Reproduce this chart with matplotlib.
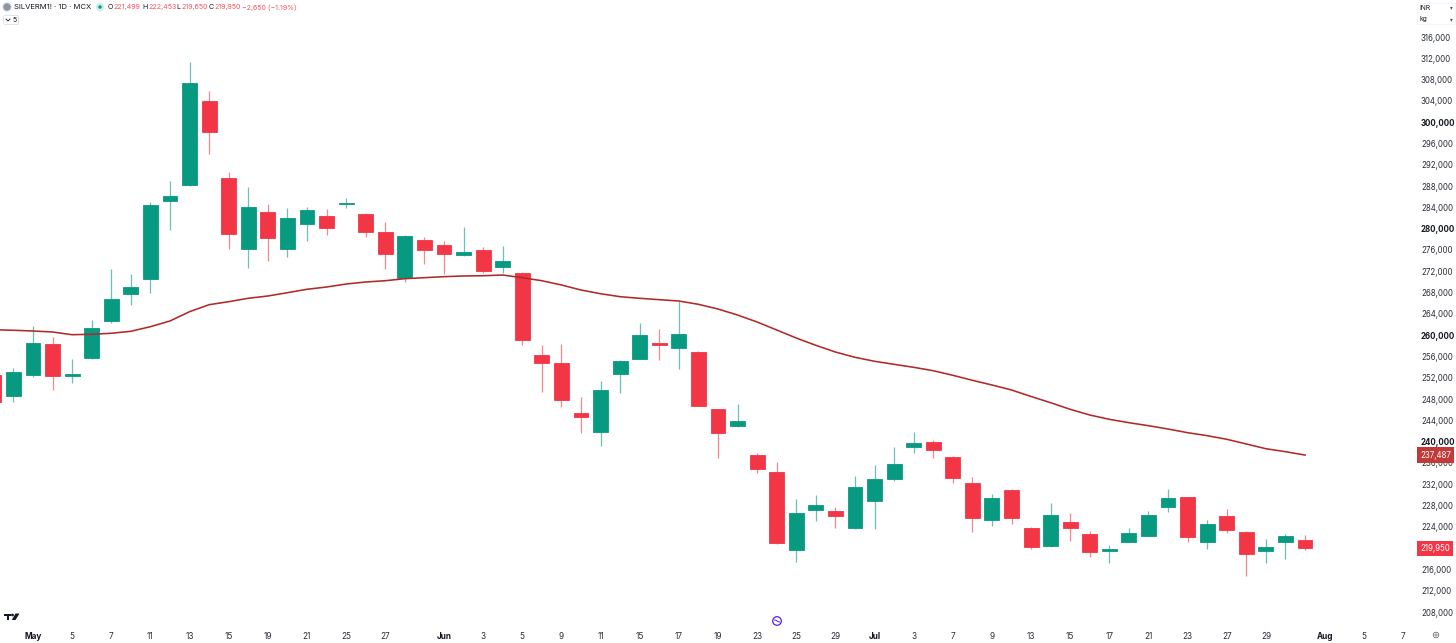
import matplotlib
matplotlib.use("Agg")
import matplotlib.pyplot as plt
from matplotlib.patches import Circle, FancyBboxPatch, Polygon, Rectangle
import numpy as np

plt.rcParams['font.family'] = ['Inter', 'DejaVu Sans']

# daily bars, first bar number is -2 (0 = 1 May)
opens = [252520, 248640, 252580, 258350, 252430, 255720, 262670, 267740, 270550, 285260, 288210, 303980,
         289580, 276130, 283080, 276190, 280830, 282330, 284640, 282820, 279380, 270740, 277820, 276940,
         275060, 276000, 272860, 271740, 256280, 254780, 245440, 241820, 252660, 255590, 258590, 257650,
         256840, 246140, 242890, 237440, 234360, 219660, 227120, 226980, 223850, 228810, 232940, 239000,
         240000, 237120, 232190, 225350, 230980, 223790, 220350, 224920, 222660, 219420, 221160, 222350,
         227730, 229560, 221160, 226100, 223100, 219420, 221220, 221499]
highs = [252900, 253840, 261730, 259660, 255530, 262850, 272430, 271490, 285010, 289010, 311310, 305920,
         290700, 287890, 284640, 283890, 284070, 283700, 285710, 282950, 281310, 278820, 278440, 277630,
         280320, 276620, 276810, 271870, 258100, 258350, 248340, 251450, 255340, 262350, 261110, 266480,
         256940, 246230, 247020, 237880, 236130, 229290, 230040, 227790, 233560, 235620, 239060, 241760,
         240260, 237220, 233430, 230180, 231080, 224040, 228540, 226550, 223230, 220650, 223730, 226930,
         231170, 229610, 225290, 227420, 223230, 221670, 222610, 222453]
lows = [247270, 247450, 252150, 249710, 251020, 255620, 262290, 265670, 267920, 279760, 288110, 294030,
        276240, 272680, 273990, 274740, 277690, 278870, 283940, 278440, 272430, 269990, 273370, 271490,
        274870, 271740, 271680, 258210, 249390, 246570, 241580, 239190, 249200, 255530, 255340, 253650,
        246610, 236990, 242800, 234180, 220820, 217410, 225110, 223850, 223550, 223550, 232560, 237820,
        236990, 232300, 222980, 224170, 224600, 219900, 220260, 221410, 218340, 217220, 221070, 222290,
        226850, 221160, 219900, 222910, 214830, 217220, 217970, 219650]
closes = [247450, 253090, 258530, 252340, 252710, 261350, 266740, 269050, 284450, 286140, 307420, 298160,
          279060, 284020, 278200, 282010, 283510, 280190, 284830, 279380, 275190, 278690, 276000, 275300,
          275570, 272110, 273930, 259100, 254720, 247830, 244690, 249710, 255210, 260040, 258160, 260280,
          246760, 241690, 243830, 234930, 220920, 226610, 228050, 226040, 231550, 232940, 235750, 239810,
          238500, 233180, 225730, 229430, 225670, 220280, 226180, 223850, 219340, 219850, 222910, 226230,
          229430, 222040, 224490, 223470, 218910, 220220, 222350, 219950]

ma_line = [261030, 260920, 260790, 260600, 260090, 260170, 260360, 260730, 261600, 262670, 264410, 265730,
           266290, 266930, 267360, 267980, 268620, 269050, 269610, 269990, 270230, 270610, 270800, 270990,
           271120, 271170, 271300, 270800, 270230, 269430, 268490, 267790, 267230, 266930, 266670, 266420,
           265800, 264920, 263790, 262480, 260980, 259470, 258100, 256840, 255850, 255100, 254530, 253970,
           253330, 252470, 251530, 250650, 249710, 248490, 247320, 246080, 245010, 244200, 243570, 243000,
           242380, 241690, 241130, 240450, 239570, 238680, 238120, 237487]

date_ticks = [0, 2, 4, 6, 8, 10, 12, 14, 16, 18, 21, 23, 25, 27, 29, 31, 33, 35, 37, 39, 41, 43, 45, 47, 49,
              51, 53, 55, 57, 59, 61, 63, 66, 68, 70]
date_labels = ['May', '5', '7', '11', '13', '15', '19', '21', '25', '27', 'Jun', '3', '5', '9', '11', '15', '17',
               '19', '23', '25', '29', 'Jul', '3', '7', '9', '13', '15', '17', '21', '23', '27', '29', 'Aug', '5', '7']
# 220,000 sits under the last price tag in the original, so it is left out
price_ticks = [p for p in range(208000, 320000, 4000) if p != 220000]
bold_prices = [240000, 260000, 280000, 300000]

GREEN = '#089981'
RED = '#f23645'
MA_RED = '#b02a2a'
TEXT = '#2a2e39'

fig = plt.figure(figsize=(14.56, 6.43), dpi=100)
ax = fig.add_axes([0, 18 / 643, 1416 / 1456, 625 / 643])

x = np.arange(-2, len(opens) - 2)
o = np.array(opens)
h = np.array(highs)
l = np.array(lows)
c = np.array(closes)
colors = [GREEN if a >= b else RED for a, b in zip(c, o)]

ax.vlines(x, l, h, colors=colors, linewidth=0.9, alpha=0.6, zorder=2)
ax.bar(x, np.abs(c - o), bottom=np.minimum(o, c), width=0.76, color=colors, edgecolor=colors,
       linewidth=0.6, zorder=3)
ax.plot(x, ma_line, color=MA_RED, linewidth=1.15, zorder=4)

ax.set_xlim(-33 / 19.57, (1416 - 33) / 19.57)
ax.set_ylim(205574, 322949)
for s in ax.spines.values():
    s.set_visible(False)

ax.set_xticks(date_ticks)
ax.set_xticklabels(date_labels)
ax.yaxis.tick_right()
ax.set_yticks(price_ticks)
ax.set_yticklabels([f'{p:,}' for p in price_ticks])
ax.tick_params(axis='y', length=0, labelsize=5.7, labelcolor=TEXT, pad=3.6)
ax.tick_params(axis='x', length=0, labelsize=5.9, labelcolor=TEXT, pad=5)
for lab, p in zip(ax.get_yticklabels(), price_ticks):
    if p in bold_prices:
        lab.set_fontweight('bold')
        lab.set_color('#131722')
for lab, t in zip(ax.get_xticklabels(), date_labels):
    if t in ('May', 'Jun', 'Jul', 'Aug'):
        lab.set_fontweight('bold')
        lab.set_color('#131722')

# last value tags on the price scale
tags = [(ma_line[-1], '#c23a37'), (closes[-1], RED)]
trans = ax.get_yaxis_transform()
for val, col in tags:
    ax.text(1.0029, val, f'{val:,}', transform=trans, ha='left', va='center', fontsize=5.7, color='white',
            clip_on=False, zorder=6,
            bbox=dict(boxstyle='square,pad=0.42', facecolor=col, edgecolor='none'))

# everything else is screen furniture, in pixels
over = fig.add_axes([0, 0, 1, 1], zorder=5)
over.set_xlim(0, 1456)
over.set_ylim(643, 0)
over.axis('off')

over.add_patch(Circle((7, 7), 4, facecolor='#8f93a8', edgecolor='#c9cbd6', linewidth=0.6))
over.text(14, 7.3, 'SILVERM1! · 1D · MCX', fontsize=5.5, color='#131722', va='center')
over.add_patch(Circle((100, 7), 4, facecolor='#c8ece6', edgecolor='none'))
over.add_patch(Circle((100, 7), 1.7, facecolor=GREEN, edgecolor='none'))

header = [(108, 'O', '#131722'), (113.5, '221,499', RED), (142.5, 'H', '#131722'), (148, '222,453', RED),
          (176, 'L', '#131722'), (181, '219,650', RED), (209, 'C', '#131722'), (214, '219,950', RED),
          (242.5, '−2,650 (−1.19%)', RED)]
for px, s, col in header:
    over.text(px, 7.3, s, fontsize=5.1, color=col, va='center', alpha=0.85 if col == RED else 1)

over.add_patch(FancyBboxPatch((3.5, 15.5), 15, 9, boxstyle='round,pad=0,rounding_size=1.5',
                              facecolor='white', edgecolor='#e0e3eb', linewidth=0.7))
over.plot([6, 8, 10], [19, 21, 19], color='#131722', linewidth=0.6)
over.text(12.5, 20.2, '5', fontsize=5, color='#131722', va='center')

over.add_patch(Rectangle((1417, 3), 38, 21, facecolor='white', edgecolor='#f0f3fa', linewidth=0.6))
over.text(1419, 7.5, 'INR', fontsize=4.8, color='#131722', va='center')
over.text(1419, 19.5, 'kg', fontsize=4.8, color='#131722', va='center')
over.text(1451, 7.5, '▾', fontsize=4, color='#50535e', va='center', ha='center')
over.text(1451, 20, '▾', fontsize=4, color='#50535e', va='center', ha='center')

# TradingView mark
over.add_patch(Rectangle((4, 613.5), 7, 2.4, facecolor='#131722', edgecolor='none'))
over.add_patch(Rectangle((6.5, 613.5), 2.6, 6.5, facecolor='#131722', edgecolor='none'))
over.add_patch(Circle((12.5, 615), 1.4, facecolor='#131722', edgecolor='none'))
over.add_patch(Polygon([(15.5, 613.5), (19.5, 613.5), (15.5, 620), (11.8, 620)], facecolor='#131722', edgecolor='none'))

# purple event marker and the settings glyph
over.add_patch(Circle((777, 621), 4.3, facecolor='white', edgecolor='#5b21e6', linewidth=0.9))
over.plot([774.5, 776.5, 777.5, 779.5], [620, 620.5, 621.5, 622], color='#5b21e6', linewidth=0.7)
over.add_patch(Circle((1436, 635), 2.8, facecolor='white', edgecolor='#50535e', linewidth=0.5))
over.add_patch(Circle((1436, 635), 1.1, facecolor='white', edgecolor='#50535e', linewidth=0.4))

fig.savefig('out.png', dpi=100, facecolor='white')
